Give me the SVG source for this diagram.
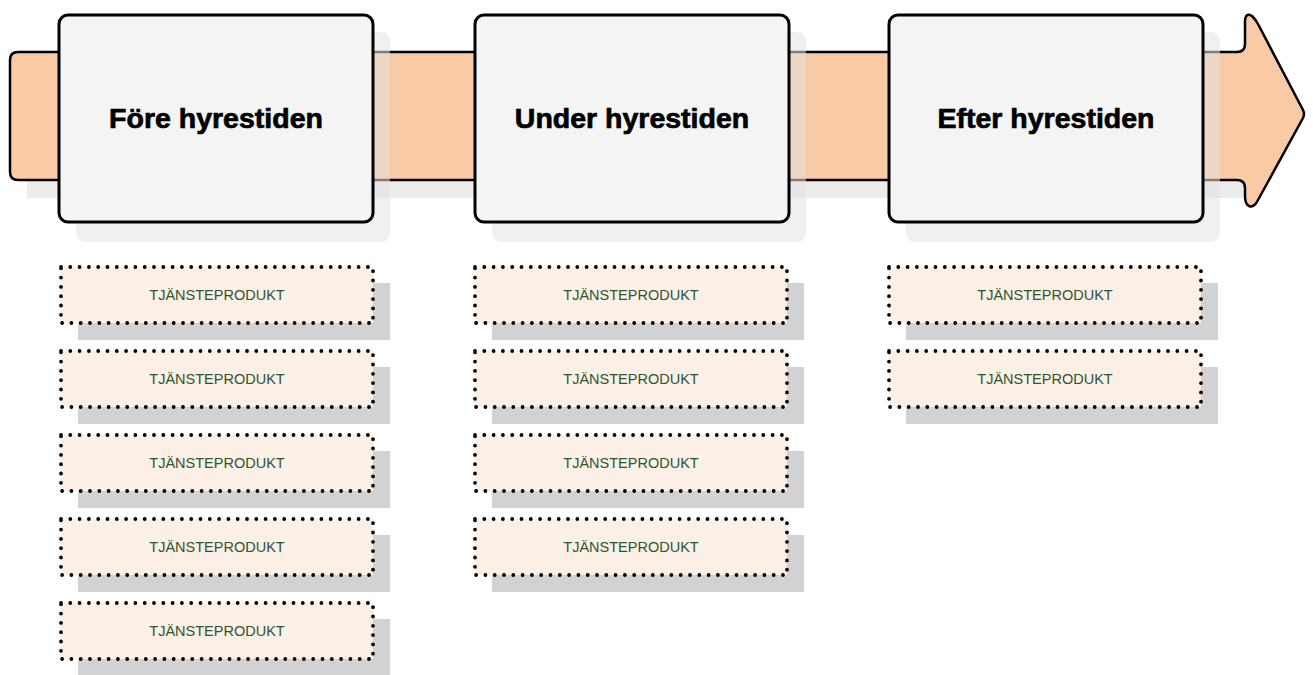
<svg xmlns="http://www.w3.org/2000/svg" width="1313" height="675" viewBox="0 0 1313 675">
<defs>
<style>
.band{fill:#f8cba6;stroke:#000;stroke-width:2.5;stroke-linejoin:round}
.bandsh{fill:#ececec}
.boxsh{fill:#e4e4e4;opacity:0.55}
.box{fill:#f4f4f4;stroke:#000;stroke-width:3}
.title{font-family:"Liberation Sans",Arial,sans-serif;font-weight:bold;font-size:28.5px;fill:#000;stroke:#000;stroke-width:0.7;text-anchor:middle}
.psh{fill:#d2d2d2}
.prod{fill:#fcefe5;stroke:#000;stroke-width:3.8;stroke-dasharray:0 9.3;stroke-linecap:round}
.ptxt{font-family:"Liberation Sans",Arial,sans-serif;font-size:14.5px;fill:#2f5530;text-anchor:middle}
</style>
</defs>
<g id="arrow">
<path class="bandsh" d="M27 70 H1260 V198 H27 Z"/>
<path class="band" d="M18 52 H1237 Q1245 52 1245 44 V22 Q1245 12 1252 16 Q1256 20 1258 24 L1303 110 Q1305 114 1303 118 L1258 200 Q1254 208 1249 206 Q1245 204 1245 196 V188 Q1245 180 1237 180 H18 Q10 180 10 172 V60 Q10 52 18 52 Z"/>
</g>
<g id="phase1">
<rect class="boxsh" x="76" y="32" width="314" height="210" rx="9"/>
<rect class="box" x="59" y="15" width="314" height="207" rx="9"/>
<text class="title" x="216" y="128">Före hyrestiden</text>
</g>
<g id="phase2">
<rect class="boxsh" x="492" y="32" width="314" height="210" rx="9"/>
<rect class="box" x="475" y="15" width="314" height="207" rx="9"/>
<text class="title" x="632" y="128">Under hyrestiden</text>
</g>
<g id="phase3">
<rect class="boxsh" x="906" y="32" width="314" height="210" rx="9"/>
<rect class="box" x="889" y="15" width="314" height="207" rx="9"/>
<text class="title" x="1046" y="128">Efter hyrestiden</text>
</g>
<g id="p1-1"><rect class="psh" x="78" y="283" width="312" height="57"/><rect class="prod" x="61" y="267" width="312" height="56"/><text class="ptxt" x="217" y="300">TJÄNSTEPRODUKT</text></g>
<g id="p1-2"><rect class="psh" x="78" y="367" width="312" height="57"/><rect class="prod" x="61" y="351" width="312" height="56"/><text class="ptxt" x="217" y="384">TJÄNSTEPRODUKT</text></g>
<g id="p1-3"><rect class="psh" x="78" y="451" width="312" height="57"/><rect class="prod" x="61" y="435" width="312" height="56"/><text class="ptxt" x="217" y="468">TJÄNSTEPRODUKT</text></g>
<g id="p1-4"><rect class="psh" x="78" y="535" width="312" height="57"/><rect class="prod" x="61" y="519" width="312" height="56"/><text class="ptxt" x="217" y="552">TJÄNSTEPRODUKT</text></g>
<g id="p1-5"><rect class="psh" x="78" y="619" width="312" height="57"/><rect class="prod" x="61" y="603" width="312" height="56"/><text class="ptxt" x="217" y="636">TJÄNSTEPRODUKT</text></g>
<g id="p2-1"><rect class="psh" x="492" y="283" width="312" height="57"/><rect class="prod" x="475" y="267" width="312" height="56"/><text class="ptxt" x="631" y="300">TJÄNSTEPRODUKT</text></g>
<g id="p2-2"><rect class="psh" x="492" y="367" width="312" height="57"/><rect class="prod" x="475" y="351" width="312" height="56"/><text class="ptxt" x="631" y="384">TJÄNSTEPRODUKT</text></g>
<g id="p2-3"><rect class="psh" x="492" y="451" width="312" height="57"/><rect class="prod" x="475" y="435" width="312" height="56"/><text class="ptxt" x="631" y="468">TJÄNSTEPRODUKT</text></g>
<g id="p2-4"><rect class="psh" x="492" y="535" width="312" height="57"/><rect class="prod" x="475" y="519" width="312" height="56"/><text class="ptxt" x="631" y="552">TJÄNSTEPRODUKT</text></g>
<g id="p3-1"><rect class="psh" x="906" y="283" width="312" height="57"/><rect class="prod" x="889" y="267" width="312" height="56"/><text class="ptxt" x="1045" y="300">TJÄNSTEPRODUKT</text></g>
<g id="p3-2"><rect class="psh" x="906" y="367" width="312" height="57"/><rect class="prod" x="889" y="351" width="312" height="56"/><text class="ptxt" x="1045" y="384">TJÄNSTEPRODUKT</text></g>
<g id="connectors"></g>
</svg>
